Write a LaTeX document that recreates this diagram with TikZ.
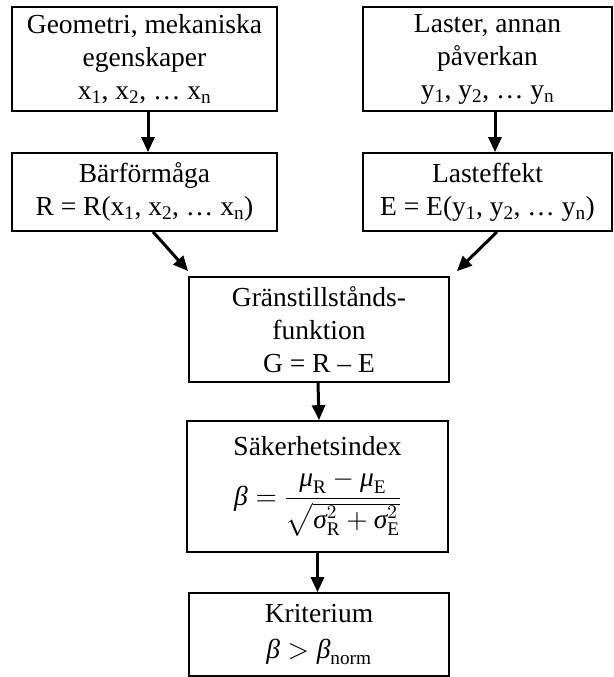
\documentclass[tikz,border=0pt]{standalone}
\usepackage{fontspec}
\setmainfont{Liberation Serif}
\usetikzlibrary{arrows.meta}
\DeclareFontShape{OML}{cmm}{m}{it}{<->cmmi10}{}
\DeclareFontShape{OMS}{cmsy}{m}{n}{<->cmsy10}{}
\DeclareFontShape{OMX}{cmex}{m}{n}{<->cmex10}{}
\DeclareFontShape{OT1}{cmr}{m}{n}{<->cmr10}{}
\newcommand\gb{\mbox{\itshape β}}
\newcommand\gm{\mbox{\itshape μ}}
\newcommand\gs{\mbox{\itshape σ}}
\begin{document}
\begin{tikzpicture}[x=1bp,y=-1bp,
  box/.style={draw,line width=1.7bp,inner sep=0pt,align=center,
    font=\fontsize{27.5bp}{33bp}\selectfont},
  arr/.style={line width=3bp,-{Triangle[length=15bp,width=13bp]}}]
\useasboundingbox (0,0) rectangle (614,677);
\node[box,minimum width=265bp,minimum height=104bp] (A) at (144.5,59)
  {Geometri, mekaniska\\egenskaper\\x\textsubscript{1}, x\textsubscript{2}, … x\textsubscript{n}};
\node[box,minimum width=249bp,minimum height=104bp] (B) at (487.5,59)
  {Laster, annan\\påverkan\\y\textsubscript{1}, y\textsubscript{2}, … y\textsubscript{n}};
\node[box,minimum width=265bp,minimum height=78bp] (C) at (144.5,192)
  {Bärförmåga\\R = R(x\textsubscript{1}, x\textsubscript{2}, … x\textsubscript{n})};
\node[box,minimum width=249bp,minimum height=78bp] (D) at (487.5,192)
  {Lasteffekt\\E = E(y\textsubscript{1}, y\textsubscript{2}, … y\textsubscript{n})};
\node[box,minimum width=260bp,minimum height=105bp] (E) at (319,329.5)
  {Gränstillstånds-\\funktion\\G = R – E};
\node[box,minimum width=261bp,minimum height=131bp] (F) at (317.5,486.5)
  {Säkerhetsindex\\[14bp]
   $\displaystyle \gb = \frac{\gm_{\mathrm{R}} - \gm_{\mathrm{E}}}{\sqrt{\gs^{2}_{\mathrm{R}} + \gs^{2}_{\mathrm{E}}}}$};
\node[box,minimum width=260bp,minimum height=83bp] (G) at (319,634.5)
  {Kriterium\\[3bp]$\gb > \gb_{\mathrm{norm}}$};
\draw[arr] ([xshift=3.5bp]A.south) -- ([xshift=3.5bp]C.north);
\draw[arr] ([xshift=7.5bp]B.south) -- ([xshift=7.5bp]D.north);
\coordinate (Ctip) at ([yshift=5bp]E.north west);
\coordinate (Dtip) at ([xshift=7bp,yshift=5bp]E.north east);
\draw[arr] ([xshift=8.5bp]C.south) -- (Ctip);
\draw[arr] ([xshift=9.5bp]D.south) -- (Dtip);
\draw[arr] ([xshift=-1bp]E.south) -- (F.north -| E.south);
\draw[arr] (F.south) -- (G.north -| F.south);
\end{tikzpicture}
\end{document}
